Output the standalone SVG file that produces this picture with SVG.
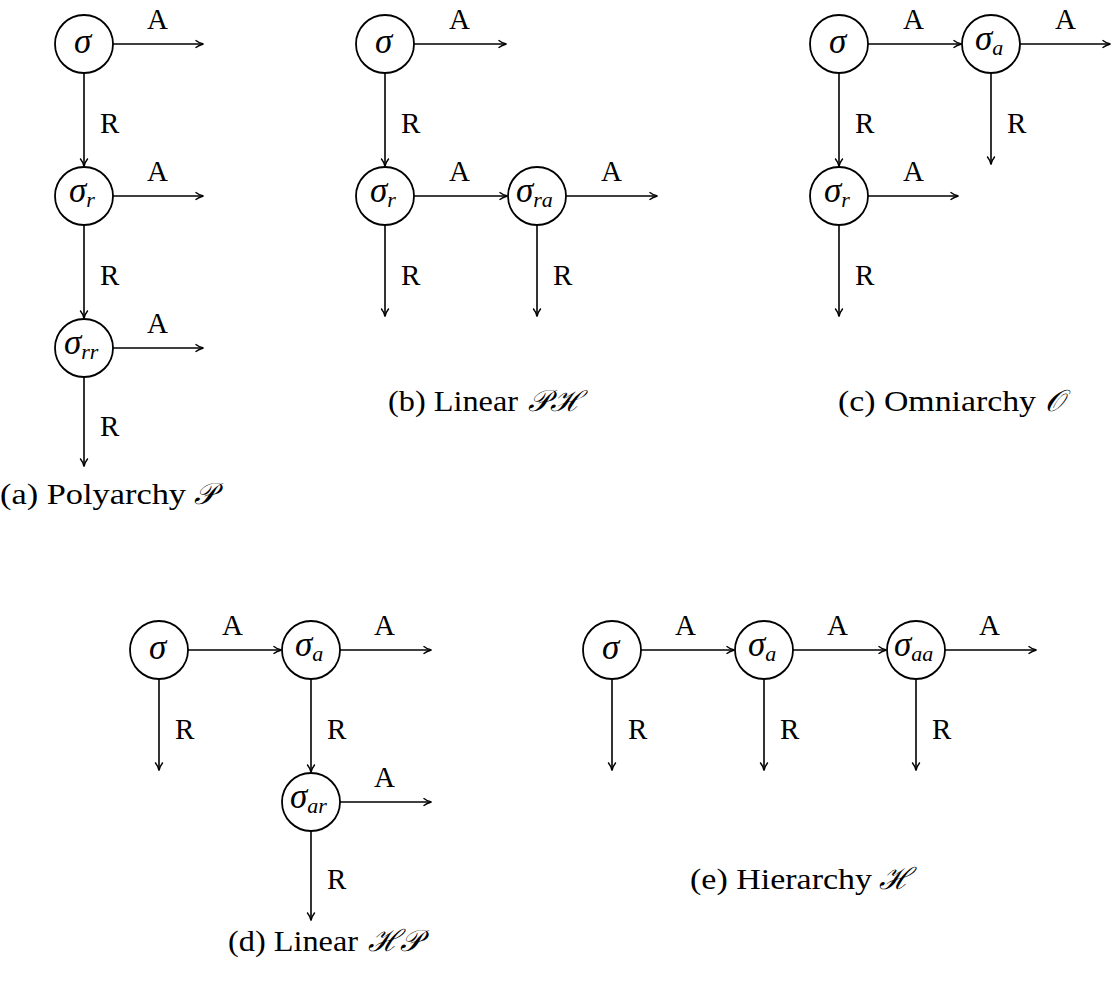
<svg xmlns="http://www.w3.org/2000/svg" width="1117" height="992" viewBox="0 0 1117 992" font-family="Liberation Serif, DejaVu Serif, serif">
<style>
.n{fill:#fff;stroke:#000;stroke-width:1.8}
.e{stroke:#000;stroke-width:1.6;fill:none}
.lab{font-size:29px}
.s{font-style:italic;font-size:35px}
.sub{font-style:italic;font-size:22px}
.cap{font-size:30px}
.m{font-style:italic;font-size:30px}
</style>
<defs>
<marker id="ah" markerWidth="12" markerHeight="10" refX="9" refY="5" orient="auto" markerUnits="userSpaceOnUse">
<path d="M1.5,1.2 Q5,4 9.5,5 Q5,6 1.5,8.8" fill="none" stroke="#000" stroke-width="1.4"/>
</marker>
</defs>
<g id="connectors">
<line class="e" x1="113" y1="44" x2="203" y2="44" marker-end="url(#ah)"/>
<line class="e" x1="84" y1="73" x2="84" y2="166" marker-end="url(#ah)"/>
<line class="e" x1="113" y1="196" x2="203" y2="196" marker-end="url(#ah)"/>
<line class="e" x1="84" y1="225" x2="84" y2="318" marker-end="url(#ah)"/>
<line class="e" x1="113" y1="348" x2="203" y2="348" marker-end="url(#ah)"/>
<line class="e" x1="84" y1="377" x2="84" y2="466" marker-end="url(#ah)"/>
<line class="e" x1="414" y1="44" x2="506" y2="44" marker-end="url(#ah)"/>
<line class="e" x1="385" y1="73" x2="385" y2="166" marker-end="url(#ah)"/>
<line class="e" x1="414" y1="196" x2="507" y2="196" marker-end="url(#ah)"/>
<line class="e" x1="566" y1="196" x2="657" y2="196" marker-end="url(#ah)"/>
<line class="e" x1="385" y1="225" x2="385" y2="316" marker-end="url(#ah)"/>
<line class="e" x1="537" y1="225" x2="537" y2="316" marker-end="url(#ah)"/>
<line class="e" x1="868" y1="44" x2="961" y2="44" marker-end="url(#ah)"/>
<line class="e" x1="1020" y1="44" x2="1110" y2="44" marker-end="url(#ah)"/>
<line class="e" x1="991" y1="73" x2="991" y2="164" marker-end="url(#ah)"/>
<line class="e" x1="839" y1="73" x2="839" y2="166" marker-end="url(#ah)"/>
<line class="e" x1="868" y1="196" x2="958" y2="196" marker-end="url(#ah)"/>
<line class="e" x1="839" y1="225" x2="839" y2="316" marker-end="url(#ah)"/>
<line class="e" x1="188" y1="650" x2="281" y2="650" marker-end="url(#ah)"/>
<line class="e" x1="340" y1="650" x2="431" y2="650" marker-end="url(#ah)"/>
<line class="e" x1="159" y1="679" x2="159" y2="770" marker-end="url(#ah)"/>
<line class="e" x1="311" y1="679" x2="311" y2="772" marker-end="url(#ah)"/>
<line class="e" x1="340" y1="802" x2="431" y2="802" marker-end="url(#ah)"/>
<line class="e" x1="311" y1="831" x2="311" y2="920" marker-end="url(#ah)"/>
<line class="e" x1="641" y1="650" x2="734" y2="650" marker-end="url(#ah)"/>
<line class="e" x1="793" y1="650" x2="886" y2="650" marker-end="url(#ah)"/>
<line class="e" x1="945" y1="650" x2="1036" y2="650" marker-end="url(#ah)"/>
<line class="e" x1="612" y1="679" x2="612" y2="770" marker-end="url(#ah)"/>
<line class="e" x1="764" y1="679" x2="764" y2="770" marker-end="url(#ah)"/>
<line class="e" x1="916" y1="679" x2="916" y2="770" marker-end="url(#ah)"/>
<g class="lab">
<text x="147" y="29">A</text><text x="100" y="133">R</text>
<text x="147" y="181">A</text><text x="100" y="285">R</text>
<text x="147" y="333">A</text><text x="100" y="436">R</text>
<text x="449" y="29">A</text><text x="401" y="133">R</text>
<text x="449" y="181">A</text><text x="601" y="181">A</text>
<text x="401" y="285">R</text><text x="553" y="285">R</text>
<text x="903" y="29">A</text><text x="1055" y="29">A</text>
<text x="1007" y="133">R</text><text x="855" y="133">R</text>
<text x="903" y="181">A</text><text x="855" y="285">R</text>
<text x="222" y="635">A</text><text x="374" y="635">A</text>
<text x="175" y="739">R</text><text x="327" y="739">R</text>
<text x="374" y="787">A</text><text x="327" y="889">R</text>
<text x="675" y="635">A</text><text x="827" y="635">A</text><text x="979" y="635">A</text>
<text x="628" y="739">R</text><text x="780" y="739">R</text><text x="932" y="739">R</text>
</g>
</g>
<g id="a-s"><circle class="n" cx="84" cy="44" r="29"/><text class="s" x="74" y="53">σ</text></g>
<g id="a-sr"><circle class="n" cx="84" cy="196" r="29"/><text class="s" x="69" y="202">σ<tspan class="sub" dy="5">r</tspan></text></g>
<g id="a-srr"><circle class="n" cx="84" cy="348" r="29"/><text class="s" x="64" y="354">σ<tspan class="sub" dy="5">rr</tspan></text></g>
<g id="b-s"><circle class="n" cx="385" cy="44" r="29"/><text class="s" x="375" y="53">σ</text></g>
<g id="b-sr"><circle class="n" cx="385" cy="196" r="29"/><text class="s" x="370" y="202">σ<tspan class="sub" dy="5">r</tspan></text></g>
<g id="b-sra"><circle class="n" cx="537" cy="196" r="29"/><text class="s" x="516" y="202">σ<tspan class="sub" dy="5">ra</tspan></text></g>
<g id="c-s"><circle class="n" cx="839" cy="44" r="29"/><text class="s" x="829" y="53">σ</text></g>
<g id="c-sa"><circle class="n" cx="991" cy="44" r="29"/><text class="s" x="975" y="50">σ<tspan class="sub" dy="5">a</tspan></text></g>
<g id="c-sr"><circle class="n" cx="839" cy="196" r="29"/><text class="s" x="824" y="202">σ<tspan class="sub" dy="5">r</tspan></text></g>
<g id="d-s"><circle class="n" cx="159" cy="650" r="29"/><text class="s" x="149" y="659">σ</text></g>
<g id="d-sa"><circle class="n" cx="311" cy="650" r="29"/><text class="s" x="295" y="656">σ<tspan class="sub" dy="5">a</tspan></text></g>
<g id="d-sar"><circle class="n" cx="311" cy="802" r="29"/><text class="s" x="290" y="808">σ<tspan class="sub" dy="5">ar</tspan></text></g>
<g id="e-s"><circle class="n" cx="612" cy="650" r="29"/><text class="s" x="602" y="659">σ</text></g>
<g id="e-sa"><circle class="n" cx="764" cy="650" r="29"/><text class="s" x="748" y="656">σ<tspan class="sub" dy="5">a</tspan></text></g>
<g id="e-saa"><circle class="n" cx="916" cy="650" r="29"/><text class="s" x="894" y="656">σ<tspan class="sub" dy="5">aa</tspan></text></g>
<g id="captions">
<text class="cap" x="0" y="504" textLength="186" lengthAdjust="spacingAndGlyphs">(a) Polyarchy</text>
<text class="m" x="194" y="504">𝒫</text>
<text class="cap" x="388" y="411" textLength="130" lengthAdjust="spacingAndGlyphs">(b) Linear</text>
<text class="m" x="528" y="411">𝒫ℋ</text>
<text class="cap" x="838" y="411" textLength="198" lengthAdjust="spacingAndGlyphs">(c) Omniarchy</text>
<text class="m" x="1045" y="411">𝒪</text>
<text class="cap" x="690" y="889" textLength="182" lengthAdjust="spacingAndGlyphs">(e) Hierarchy</text>
<text class="m" x="879" y="889">ℋ</text>
<text class="cap" x="228" y="951" textLength="130" lengthAdjust="spacingAndGlyphs">(d) Linear</text>
<text class="m" x="368" y="951">ℋ𝒫</text>
</g>
</svg>
